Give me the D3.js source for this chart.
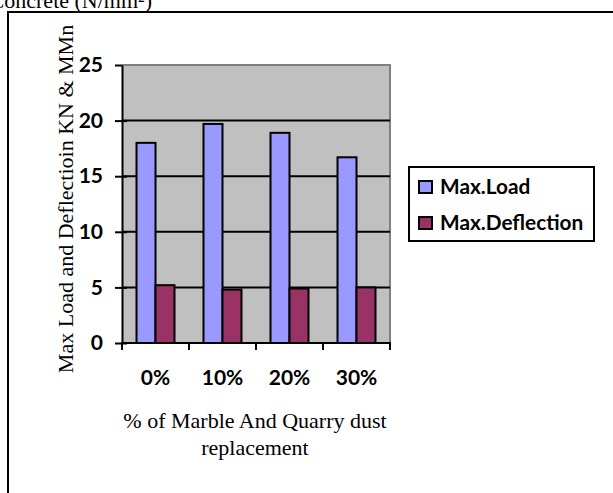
<!DOCTYPE html>
<html>
<head>
<meta charset="utf-8">
<script src="https://cdn.jsdelivr.net/npm/d3@7/dist/d3.min.js"></script>
<style>
  html, body { margin: 0; padding: 0; background: #fff; }
  svg { display: block; }
</style>
</head>
<body>
<svg id="chart" width="613" height="493"></svg>
<script>
// Data
const categories = ["0%", "10%", "20%", "30%"];
const seriesNames = ["Max.Load", "Max.Deflection"];
const maxLoad = [18.0, 19.7, 18.9, 16.7];
const maxDeflection = [5.2, 4.8, 4.9, 5.0];
const yTicks = [0, 5, 10, 15, 20, 25];
const seriesColors = ["#9999FF", "#993366"];

const rows = categories.map((c, i) => ({ cat: c, values: [maxLoad[i], maxDeflection[i]] }));

const svg = d3.select("#chart");
const serif = "'Liberation Serif', 'Times New Roman', serif";
const sans = "Lato, 'Open Sans', sans-serif";

// Caption line running off the top of the page
svg.append("text")
  .attr("x", 152).attr("y", 8)
  .attr("text-anchor", "end")
  .attr("font-family", serif).attr("font-size", 22)
  .text("Concrete (N/mm²)");

// Outer frame
svg.append("path")
  .attr("d", "M8,493 V12 H613")
  .attr("fill", "none").attr("stroke", "#000").attr("stroke-width", 2);

// Plot area
const plot = { left: 122, right: 390, top: 65, bottom: 343 };

const x0 = d3.scaleBand()
  .domain(categories)
  .range([plot.left, plot.right])
  .paddingInner(0.433)
  .paddingOuter(0.2165);
const x1 = d3.scaleBand()
  .domain(d3.range(seriesNames.length))
  .range([0, x0.bandwidth()]);
const y = d3.scaleLinear().domain([0, 25]).range([plot.bottom, plot.top]);

// Background
svg.append("rect")
  .attr("x", plot.left).attr("y", plot.top)
  .attr("width", plot.right - plot.left).attr("height", plot.bottom - plot.top)
  .attr("fill", "#C0C0C0");

// Plot area border (top / right)
svg.append("path")
  .attr("d", `M${plot.left},${plot.top} H${plot.right} V${plot.bottom}`)
  .attr("fill", "none").attr("stroke", "#808080").attr("stroke-width", 2);

// Gridlines
svg.append("g").selectAll("line")
  .data(yTicks.filter(t => t > 0 && t < 25))
  .join("line")
  .attr("x1", plot.left).attr("x2", plot.right)
  .attr("y1", d => y(d)).attr("y2", d => y(d))
  .attr("stroke", "#000").attr("stroke-width", 2);

// Bars
const groups = svg.append("g").selectAll("g")
  .data(rows)
  .join("g")
  .attr("transform", d => `translate(${x0(d.cat)},0)`);
groups.selectAll("rect")
  .data(d => d.values.map((v, i) => ({ v, i })))
  .join("rect")
  .attr("x", d => x1(d.i))
  .attr("width", x1.bandwidth())
  .attr("y", d => y(d.v))
  .attr("height", d => y(0) - y(d.v))
  .attr("fill", d => seriesColors[d.i])
  .attr("stroke", "#000").attr("stroke-width", 2);

// Y axis (ticks cross the axis line)
const yAxis = svg.append("g")
  .attr("transform", `translate(${plot.left},0)`)
  .call(d3.axisLeft(y).tickValues(yTicks).tickSize(7).tickPadding(12).tickSizeOuter(0));
yAxis.select(".domain").attr("stroke-width", 2);
yAxis.selectAll(".tick line").attr("x2", -7).attr("x1", 5).attr("stroke-width", 2);
yAxis.selectAll(".tick").filter(d => d === 25).select("line").attr("x1", 0);
yAxis.selectAll("text")
  .attr("font-family", sans).attr("font-weight", 700).attr("font-size", 21).attr("fill", "#000");

// X axis: ticks sit on category boundaries
const xAxis = svg.append("g").attr("transform", `translate(0,${plot.bottom})`);
xAxis.append("line")
  .attr("x1", plot.left).attr("x2", plot.right)
  .attr("stroke", "#000").attr("stroke-width", 2);
const boundaries = d3.range(categories.length + 1)
  .map(i => plot.left + i * (plot.right - plot.left) / categories.length);
xAxis.selectAll(".bt")
  .data(boundaries)
  .join("line")
  .attr("x1", d => d).attr("x2", d => d)
  .attr("y1", -1).attr("y2", 7)
  .attr("stroke", "#000").attr("stroke-width", 2);
xAxis.selectAll(".xl")
  .data(categories)
  .join("text")
  .attr("x", d => x0(d) + x0.bandwidth() / 2)
  .attr("y", 42)
  .attr("text-anchor", "middle")
  .attr("font-family", sans).attr("font-weight", 700).attr("font-size", 21)
  .text(d => d);

// Axis titles
svg.append("text")
  .attr("transform", "translate(73,199) rotate(-90)")
  .attr("text-anchor", "middle")
  .attr("font-family", serif).attr("font-size", 22)
  .text("Max Load and Deflectioin KN & MMn");

const xt = svg.append("text")
  .attr("text-anchor", "middle")
  .attr("font-family", serif).attr("font-size", 22);
xt.append("tspan").attr("x", 255).attr("y", 428).text("% of Marble And Quarry dust");
xt.append("tspan").attr("x", 255).attr("y", 455).text("replacement");

// Legend
const legend = svg.append("g");
legend.append("rect")
  .attr("x", 409).attr("y", 167).attr("width", 185).attr("height", 74)
  .attr("fill", "#fff").attr("stroke", "#000").attr("stroke-width", 2);
const items = legend.selectAll(".item")
  .data(seriesNames)
  .join("g")
  .attr("transform", (d, i) => `translate(419,${181 + i * 36})`);
items.append("rect")
  .attr("x", 0).attr("y", 0).attr("width", 13).attr("height", 12)
  .attr("fill", (d, i) => seriesColors[i])
  .attr("stroke", "#000").attr("stroke-width", 2);
items.append("text")
  .attr("x", 21).attr("y", 12.5)
  .attr("font-family", sans).attr("font-weight", 700).attr("font-size", 20.8)
  .text(d => d);
</script>
</body>
</html>
